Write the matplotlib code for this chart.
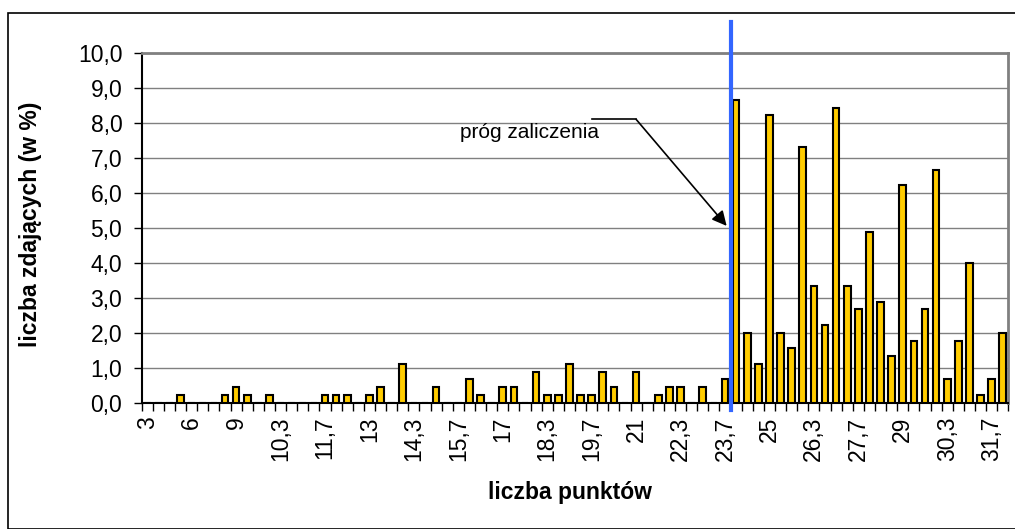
import matplotlib.pyplot as plt
from matplotlib.patches import Rectangle

plt.rcParams['font.family'] = ['Liberation Sans', 'DejaVu Sans']

# percentage of candidates for each score category (78 categories)
values = [0, 0, 0, 0.22, 0, 0, 0, 0.22, 0.44, 0.22,
          0, 0.22, 0, 0, 0, 0, 0.22, 0.22, 0.22, 0,
          0.22, 0.44, 0, 1.11, 0, 0, 0.44, 0, 0, 0.67,
          0.22, 0, 0.44, 0.44, 0, 0.89, 0.22, 0.22, 1.11, 0.22,
          0.22, 0.89, 0.44, 0, 0.89, 0, 0.22, 0.44, 0.44, 0,
          0.44, 0, 0.67, 8.67, 2.0, 1.11, 8.22, 2.0, 1.56, 7.33,
          3.33, 2.22, 8.44, 3.33, 2.67, 4.89, 2.89, 1.33, 6.22, 1.78,
          2.67, 6.67, 0.67, 1.78, 4.0, 0.22, 0.67, 2.0]
tick_labels = ['3', '6', '9', '10,3', '11,7', '13', '14,3', '15,7', '17', '18,3',
               '19,7', '21', '22,3', '23,7', '25', '26,3', '27,7', '29', '30,3', '31,7']
label_step = 4
threshold_cat = 52.5  # boundary between 23,7 and 24 points

W, H = 1015, 529
fig = plt.figure(figsize=(W / 100, H / 100), dpi=100)
fig.patches.append(Rectangle((8 / W, 0), 1.2, 1 - 13 / H, transform=fig.transFigure,
                             fill=False, edgecolor='black', linewidth=1.2))

ax = fig.add_axes([141.7 / W, 1 - 402.7 / H, (1008.3 - 141.7) / W, (402.7 - 53.3) / H])
x = list(range(len(values)))
ax.bar(x, values, width=0.6, color='#FFCC00', edgecolor='black', linewidth=1.5, zorder=3)

ax.set_xlim(-0.5, len(values) - 0.5)
ax.set_ylim(0, 10)
ax.set_yticks(range(0, 11))
ax.set_yticklabels([f'{v},0' for v in range(0, 11)], fontsize=16.5)
ax.yaxis.grid(True, color='#808080', linewidth=1, zorder=0)
ax.tick_params(axis='y', length=6, width=1, pad=8)

ax.set_xticks(x[::label_step])
ax.set_xticklabels(tick_labels, rotation=90, fontsize=16.5)
ax.tick_params(axis='x', length=0, pad=10)
ax.set_xticks([i - 0.5 for i in range(len(values) + 1)], minor=True)
ax.tick_params(axis='x', which='minor', length=6, width=1)

for s in ['top', 'right']:
    ax.spines[s].set_color('#808080')
    ax.spines[s].set_linewidth(2)
for s in ['left', 'bottom']:
    ax.spines[s].set_color('black')
    ax.spines[s].set_linewidth(1.5)

fig.text(31 / W, 1 - 224 / H, 'liczba zdających (w %)', fontsize=16.5, fontweight='bold',
         rotation=90, ha='center', va='center')
fig.text(570 / W, 1 - 492 / H, 'liczba punktów', fontsize=16.5, fontweight='bold',
         ha='center', va='center')

# threshold line
ax.plot([threshold_cat, threshold_cat], [-0.2, 10.9], color='#3366FF', linewidth=3,
        clip_on=False, zorder=5)

# annotation
ax.text(34.4, 7.72, 'próg zaliczenia', fontsize=15, ha='center', va='center')
ax.plot([40.0, 44.0], [8.11, 8.11], color='black', linewidth=1.2, zorder=6)
ax.annotate('', xy=(52.15, 5.06), xytext=(44.0, 8.11),
            arrowprops=dict(arrowstyle='-|>', color='black', lw=1.2,
                            mutation_scale=22, shrinkA=0, shrinkB=0), zorder=6)

fig.savefig('out.png', dpi=100)
